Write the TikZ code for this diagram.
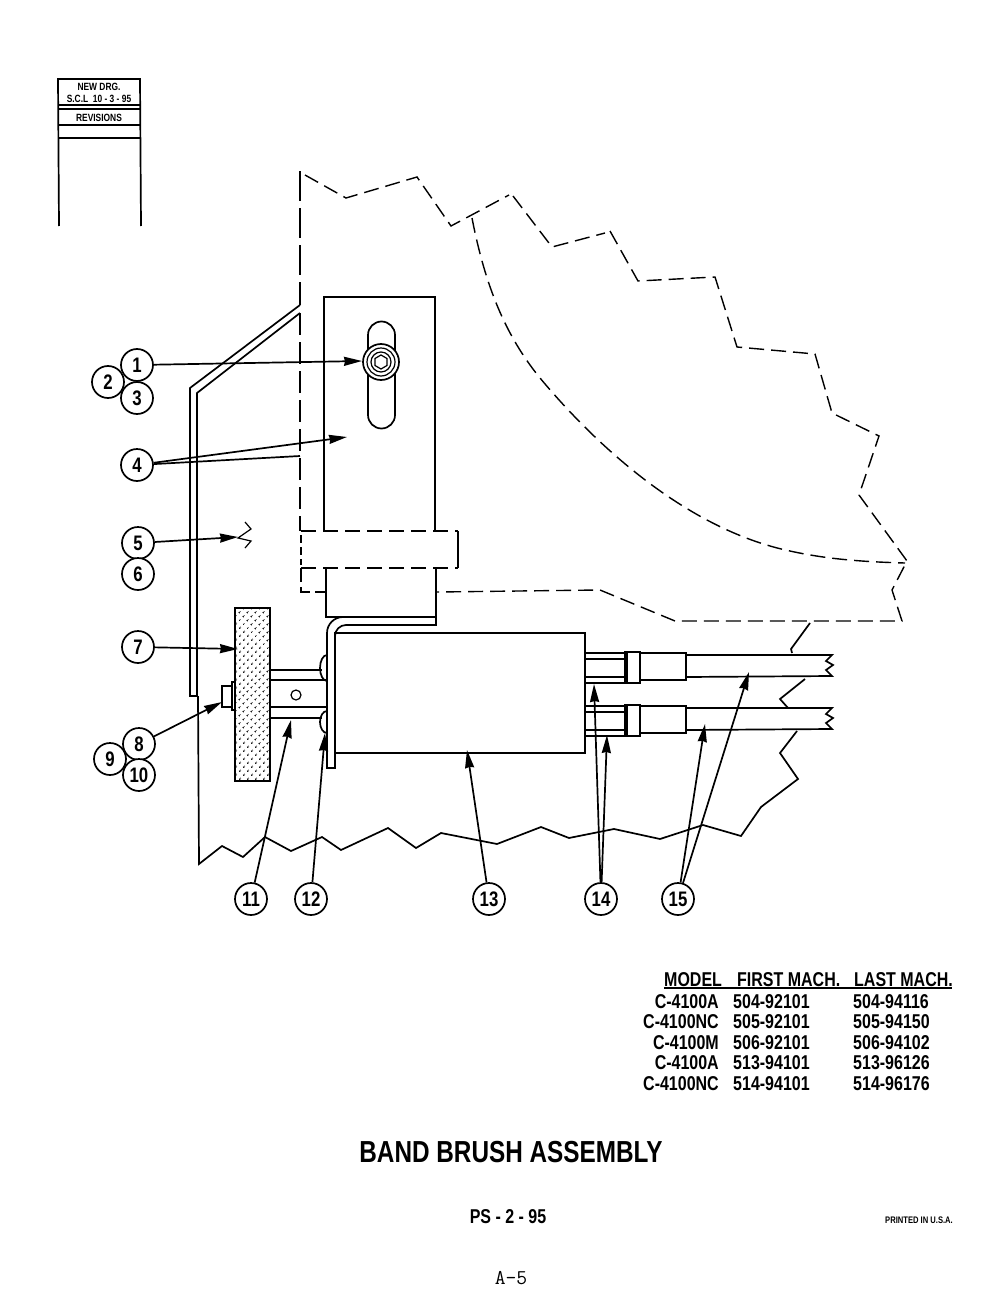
\documentclass[tikz,border=0pt]{standalone}
\usepackage{fontspec}
\setmainfont[FakeStretch=0.8]{Liberation Sans}
\usetikzlibrary{arrows.meta,patterns.meta}
\newcommand{\arrow}{-{Stealth[length=18pt,width=9pt,inset=1pt]}}
\tikzset{
    part/.style={line width=1.7pt,line join=miter},
    hidden/.style={line width=1.4pt,dash pattern=on 15pt off 7pt},
    callout/.style={circle,draw,line width=1.7pt,minimum size=32pt,inner sep=0pt,font=\bfseries\fontsize{21}{21}\selectfont,fill=white},
    leader/.style={line width=1.7pt},
    tabletext/.style={font=\bfseries\fontsize{20}{20}\selectfont,inner sep=0pt}
}

\begin{document}
\begin{tikzpicture}[x=1pt,y=-1pt]
    \useasboundingbox (0,0) rectangle (997,1295);
    % revision block
    \draw[part] (59,226) -- (58,79) -- (140,79) -- (141,226);
    \foreach \y in {105,109,125,138} \draw[part] (58,\y) -- (140,\y);
    \node[font=\bfseries\fontsize{10.5}{10.5}\selectfont,inner sep=0pt] (newdrg) at (99,87) {NEW DRG.};
    \node[font=\bfseries\fontsize{10.5}{10.5}\selectfont,inner sep=0pt] (scl) at (99,99) {S.C.L\ \ 10 - 3 - 95};
    \node[font=\bfseries\fontsize{10.5}{10.5}\selectfont,inner sep=0pt] (revisions) at (99,118) {REVISIONS};
    % outline of the band wheel
    \draw[hidden,dash pattern=on 30pt off 7pt] (300,171) -- (300,305);
    \draw[hidden,dash pattern=on 22pt off 7pt] (300,313) -- (300,531);
    \draw[hidden] (305,175) -- (346,198) -- (417,177) -- (451,226) -- (509,195);
    \draw[hidden] (513,196) -- (552,247) -- (605,233);
    \draw[hidden] (610,231) -- (638,281) -- (715,277) -- (737,347) -- (815,354) -- (832,413) -- (879,436) -- (859,495)
        -- (907,561) -- (892,590) -- (902,621) -- (675,621) -- (600,590) -- (437,592);
    \draw[hidden] (472,218) .. controls (485,285) and (505,335) .. (540,378)
        .. controls (600,450) and (690,530) .. (790,551) .. controls (830,560) and (870,562) .. (905,563);
    % guard and bottom edge
    \draw[part] (300,305) -- (190,388) -- (190,696) -- (197,696) -- (197,393) -- (300,313);
    \draw[part] (198,696) -- (199,864) -- (222,846) -- (243,857) -- (265,837) -- (291,851) -- (322,837)
        -- (341,850) -- (388,828) -- (416,848) -- (441,833) -- (497,844) -- (541,827) -- (569,838)
        -- (614,829) -- (660,839) -- (703,825) -- (741,836) -- (761,807) -- (798,779) -- (780,753) -- (797,731);
    \draw[part] (788,708) -- (780,699) -- (805,679);
    \draw[part] (792,653) -- (791,649) -- (810,623);
    % plate and slot
    \draw[part] (324,530) -- (324,297) -- (435,297) -- (435,530);
    \draw[part] (368,335) arc (180:360:13.5) -- (395,415) arc (0:180:13.5) -- cycle;
    \draw[part,fill=white] (381,362) circle (18);
    \draw[line width=1.2pt] (381,362) circle (14) (381,362) circle (10);
    \draw[line width=1.2pt] (381,355) -- (387,358.5) -- (387,365.5) -- (381,369) -- (375,365.5) -- (375,358.5) -- cycle;
    \draw[hidden] (301,531) -- (458,531);
    \draw[hidden] (301,568) -- (458,568);
    \draw[part] (458,531) -- (458,568);
    \draw[hidden,dash pattern=on 8pt off 4pt] (301,535) -- (301,565);
    \draw[hidden,dash pattern=on 14pt off 5pt] (301,568) -- (301,592) -- (326,592);
    \draw[part] (326,568) -- (326,617) -- (436,617) -- (436,568);
    \draw[part] (436,617) -- (436,625) -- (346,625) arc (270:180:11) -- (335,768) -- (327,768) -- (327,633) arc (180:270:16) -- (345,617);
    % box
    \draw[part] (335,633) rectangle (585,753);
    % brush and shaft
    \draw[part,pattern={Dots[radius=1.1pt,distance=5.4pt,angle=45]},pattern color=black] (235,608) rectangle (270,781);
    \draw[part] (270,670) -- (322,670) (270,680) -- (327,680) (270,707) -- (327,707) (270,718) -- (322,718);
    \draw[line width=1.2pt] (296,695) circle (5);
    \draw[part] (327,655) arc (270:90:7 and 13);
    \draw[part] (327,711) arc (270:90:7 and 11);
    \draw[part] (222,686) rectangle (232,707);
    \draw[part] (232,682) rectangle (235,710);
    \draw[line width=1.2pt] (245,522) -- (251,529) -- (238,538) -- (251,541) -- (245,548);
    % fittings and hoses
    \foreach \d in {0,53} {
        \draw[part] (585,653+\d) -- (625,653+\d) (585,659+\d) -- (625,659+\d) (585,677+\d) -- (625,677+\d) (585,683+\d) -- (625,683+\d);
        \draw[part] (625,652+\d) rectangle (640,683+\d);
        \draw[line width=3pt] (626,652+\d) -- (626,683+\d);
        \draw[part] (640,653+\d) rectangle (686,680+\d);
        \draw[part] (686,655+\d) -- (832,655+\d) -- (826,661+\d) -- (833,665+\d) -- (826,670+\d) -- (832,676+\d) -- (686,677+\d);
    }
    % callouts
    \node[callout] (n2) at (108,382) {2};
    \node[callout] (n1) at (137,365) {1};
    \node[callout] (n3) at (137,398) {3};
    \node[callout] (n4) at (137,465) {4};
    \node[callout] (n5) at (138,543) {5};
    \node[callout] (n6) at (138,574) {6};
    \node[callout] (n7) at (138,647) {7};
    \node[callout] (n9) at (110,759) {9};
    \node[callout] (n8) at (139,744) {8};
    \node[callout] (n10) at (139,775) {10};
    \node[callout] (n11) at (251,899) {11};
    \node[callout] (n12) at (311,899) {12};
    \node[callout] (n13) at (489,899) {13};
    \node[callout] (n14) at (601,899) {14};
    \node[callout] (n15) at (678,899) {15};
    \coordinate (bolt) at (362,361);
    \coordinate (plate) at (347,437);
    \coordinate (guard) at (300,456);
    \coordinate (band) at (238,537);
    \coordinate (brush) at (238,649);
    \coordinate (head) at (222,702);
    \coordinate (shaft) at (291,720);
    \coordinate (nut) at (325,733);
    \coordinate (motor) at (467,750);
    \coordinate (fitup) at (594,684);
    \coordinate (fitlow) at (607,735);
    \coordinate (hoseup) at (749,672);
    \coordinate (hoselow) at (705,724);
    \draw[leader,\arrow] (n1) -- (bolt);
    \draw[leader,\arrow] (n4) -- (plate);
    \draw[leader] (n4) -- (guard);
    \draw[leader,\arrow] (n5) -- (band);
    \draw[leader,\arrow] (n7) -- (brush);
    \draw[leader,\arrow] (n8) -- (head);
    \draw[leader,\arrow] (n11) -- (shaft);
    \draw[leader,\arrow] (n12) -- (nut);
    \draw[leader,\arrow] (n13) -- (motor);
    \draw[leader,\arrow] (n14) -- (fitup);
    \draw[leader,\arrow] (n14) -- (fitlow);
    \draw[leader,\arrow] (n15) -- (hoseup);
    \draw[leader,\arrow] (n15) -- (hoselow);
    % table
    \node[tabletext,anchor=west] (hmodel) at (664,980) {MODEL};
    \node[tabletext,anchor=west] (hfirst) at (737,980) {FIRST MACH.};
    \node[tabletext,anchor=west] (hlast) at (854,980) {LAST MACH.};
    \draw[line width=1.3pt] (664,988) -- (952,988);
    \foreach \m/\f/\l [count=\i] in {C-4100A/504-92101/504-94116,C-4100NC/505-92101/505-94150,C-4100M/506-92101/506-94102,C-4100A/513-94101/513-96126,C-4100NC/514-94101/514-96176} {
        \node[tabletext,anchor=east] (model\i) at (719,981+20.5*\i) {\m};
        \node[tabletext,anchor=west] (first\i) at (733,981+20.5*\i) {\f};
        \node[tabletext,anchor=west] (last\i) at (853,981+20.5*\i) {\l};
    }
    \node[font=\bfseries\fontsize{30.4}{30.4}\selectfont,inner sep=0pt] (title) at (511,1152) {BAND BRUSH ASSEMBLY};
    \node[font=\bfseries\fontsize{20}{20}\selectfont,inner sep=0pt] (sheet) at (508,1217) {PS - 2 - 95};
    \node[font=\bfseries\fontsize{9.5}{9.5}\selectfont,inner sep=0pt] (printed) at (919,1220) {PRINTED IN U.S.A.};
    \node[font=\ttfamily\fontsize{21}{21}\selectfont,inner sep=0pt] (page) at (511,1278) {A-5};
\end{tikzpicture}
\end{document}
